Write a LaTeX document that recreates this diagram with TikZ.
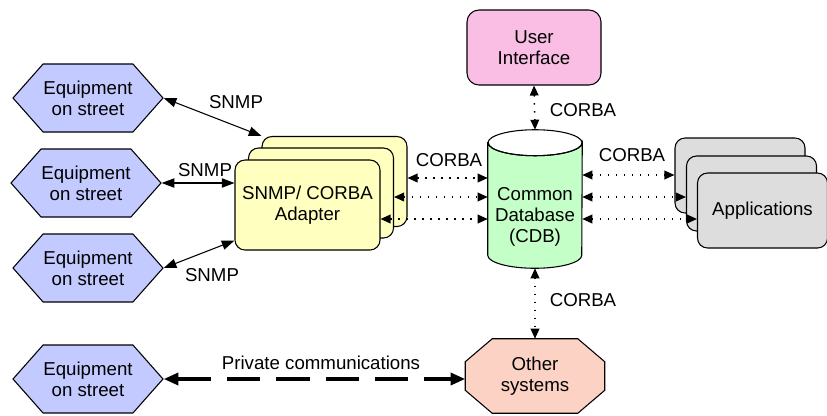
\documentclass[tikz,border=0pt]{standalone}
\usepackage{fontspec}
\setmainfont{Liberation Sans}
\usetikzlibrary{arrows.meta}
\usetikzlibrary{shapes.symbols}
\usetikzlibrary{calc}
\usepackage{xcolor}

\definecolor{equipblue}{RGB}{195,202,255}
\definecolor{adapteryellow}{RGB}{255,255,192}
\definecolor{uipink}{RGB}{250,190,228}
\definecolor{cdbgreen}{RGB}{196,255,200}
\definecolor{appgray}{RGB}{221,221,221}
\definecolor{othersalmon}{RGB}{251,210,195}

\pgfdeclarelayer{background}
\pgfsetlayers{background,main}

\begin{document}
\begin{tikzpicture}[x=0.75pt,y=0.75pt,yscale=-1,xscale=1,
  font=\fontsize{14}{15.5}\selectfont,
  equip/.style={signal, signal to=east and west, signal pointer angle=97, draw, line width=0.8pt, fill=equipblue, minimum width=112.5pt, minimum height=51pt, align=center, inner sep=0pt},
  card/.style={draw, line width=0.8pt, rounded corners=7.5pt, align=center, inner sep=0pt},
  snmp/.style={{Triangle[length=9.5pt,width=7pt]}-{Triangle[length=9.5pt,width=7pt]}, line width=0.8pt},
  corba/.style={{Triangle[length=7.5pt,width=6.5pt]}-{Triangle[length=7.5pt,width=6.5pt]}, line width=1.1pt, dash pattern=on 1.1pt off 4.9pt},
  lbl/.style={inner sep=0.75pt, align=center}]
\useasboundingbox (0,0) rectangle (827,415);

%Shape: Equipment hexagons
\node[equip] (eq1) at (88,98) {Equipment\\on street};
\node[equip] (eq2) at (86,183) {Equipment\\on street};
\node[equip] (eq3) at (88,268) {Equipment\\on street};
\node[equip] (eq4) at (88,379) {Equipment\\on street};

%Shape: Adapter stack
\node[card, fill=adapteryellow, minimum width=108.75pt, minimum height=67.5pt] (adbk) at (334.5,181.5) {};
\node[card, fill=adapteryellow, minimum width=108.75pt, minimum height=67.5pt] (admd) at (321,193) {};
\node[card, fill=adapteryellow, minimum width=108.75pt, minimum height=67.5pt] (adpt) at (307.5,205) {SNMP/ CORBA\\Adapter};

%Shape: User interface
\node[card, rounded corners=9pt, fill=uipink, minimum width=100.5pt, minimum height=56.25pt] (ui) at (534,47.5) {User\\Interface};

%Shape: Can [common database]
\node[minimum width=70.5pt, minimum height=103.5pt, inner sep=0pt] (cdb) at (535,199) {};
\draw[line width=0.8pt, fill=cdbgreen] ($(cdb.north west)+(0,13)$) -- ($(cdb.south west)+(0,-13)$) arc (180:0:47 and 13) -- ($(cdb.north east)+(0,13)$) arc (0:180:47 and 13) -- cycle;
\draw[line width=0.8pt] ($(cdb.north)+(0,13)$) ellipse (47 and 13);
\node[lbl] (cdbtxt) at (535,217) {Common\\Database\\(CDB)};

%Shape: Applications stack
\node[card, fill=appgray, minimum width=97.5pt, minimum height=56.25pt] (apbk) at (740,175.5) {};
\node[card, fill=appgray, minimum width=97.5pt, minimum height=56.25pt] (apmd) at (751.5,193.5) {};
\node[card, fill=appgray, minimum width=97.5pt, minimum height=56.25pt] (appt) at (762.5,210.5) {Applications};

%Shape: Octagon [other systems]
\node[minimum width=104.25pt, minimum height=55.5pt, inner sep=0pt, align=center] (other) at (535,376) {Other\\systems};
\begin{pgfonlayer}{background}
\draw[line width=0.8pt, fill=othersalmon] ($(other.north west)+(27,0)$) -- ($(other.north east)+(-27,0)$) -- ($(other.north east)+(0,23)$) -- ($(other.south east)+(0,-23)$) -- ($(other.south east)+(-27,0)$) -- ($(other.south west)+(27,0)$) -- ($(other.south west)+(0,-23)$) -- ($(other.north west)+(0,23)$) -- cycle;
\end{pgfonlayer}

%Straight Lines: SNMP links
\draw[snmp] (eq1.east) -- (adbk.north west);
\draw[snmp] (eq2.east) -- (eq2.east -| adpt.west);
\draw[snmp] (eq3.east) -- ($(adpt.south west)+(0,-10)$);

%Dotted Lines: CORBA links
\draw[corba] (adbk.east |- 0,178) -- (cdb.west |- 0,178);
\draw[corba] (admd.east |- 0,197) -- (cdb.west |- 0,197);
\draw[corba] (adpt.east |- 0,219) -- (cdb.west |- 0,219);
\draw[corba] (cdb.east |- 0,175) -- (apbk.west |- 0,175);
\draw[corba] (cdb.east |- 0,197) -- (apmd.west |- 0,197);
\draw[corba] (cdb.east |- 0,219) -- (appt.west |- 0,219);
\draw[corba] (ui.south) -- (cdb.north);
\draw[corba] (cdb.south) -- (other.north);

%Dashed Line: private communications
\draw[{Triangle[length=11pt,width=9pt]}-{Triangle[length=11pt,width=9pt]}, line width=2.6pt, dash pattern=on 25pt off 12pt] (eq4.east) -- (eq4.east -| other.west);

% Text Node
\node[lbl] (snmpa) at (236,102) {SNMP};
% Text Node
\node[lbl] (snmpb) at (205,170) {SNMP};
% Text Node
\node[lbl] (snmpc) at (212,275) {SNMP};
% Text Node
\node[lbl] (corbaa) at (449,160) {CORBA};
% Text Node
\node[lbl] (corbab) at (632,155) {CORBA};
% Text Node
\node[lbl] (corbac) at (583,110) {CORBA};
% Text Node
\node[lbl] (corbad) at (583,300) {CORBA};
% Text Node
\node[lbl] (private) at (321,363) {Private communications};

\end{tikzpicture}
\end{document}
